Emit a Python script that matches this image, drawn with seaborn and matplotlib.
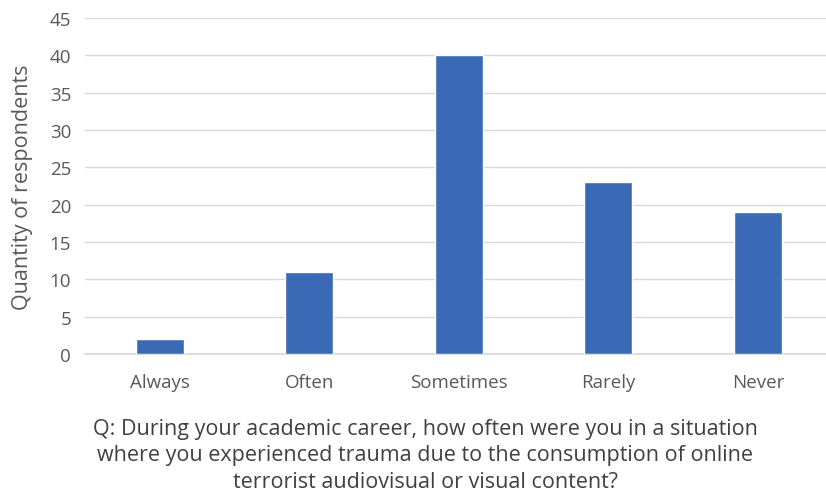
import matplotlib
matplotlib.use("Agg")
import matplotlib.pyplot as plt
import pandas as pd
import seaborn as sns

# data
categories = ["Always", "Often", "Sometimes", "Rarely", "Never"]
respondents = [2, 11, 40, 23, 19]
y_ticks = [0, 5, 10, 15, 20, 25, 30, 35, 40, 45]

df = pd.DataFrame({"answer": categories, "count": respondents})

sns.set_theme(style="white")
plt.rcParams["font.family"] = ["Open Sans", "DejaVu Sans"]

fig = plt.figure(figsize=(8.26, 5.02), dpi=100)
ax = fig.add_axes([0.103, 0.293, 0.905, 0.669])

sns.barplot(data=df, x="answer", y="count", color="#3A6AB6", width=0.32,
            saturation=1, ax=ax, zorder=3)

ax.set_ylim(0, 45)
ax.set_yticks(y_ticks)
ax.yaxis.grid(True, color="#D9D9D9", linewidth=1, zorder=0)
for s in ["top", "right", "left"]:
    ax.spines[s].set_visible(False)
ax.spines["bottom"].set_color("#D9D9D9")
ax.tick_params(axis="both", length=0, labelsize=13.5, colors="#595959")
ax.tick_params(axis="x", pad=14)
ax.tick_params(axis="y", pad=10)

ax.set_ylabel("Quantity of respondents", fontsize=15.5, color="#595959", labelpad=12)
ax.set_xlabel("Q: During your academic career, how often were you in a situation\n"
              "where you experienced trauma due to the consumption of online\n"
              "terrorist audiovisual or visual content?",
              fontsize=15.5, color="#404040", linespacing=1.35, va="top")
ax.xaxis.set_label_coords(0.455, -0.19)

fig.savefig("out.png", dpi=100)
